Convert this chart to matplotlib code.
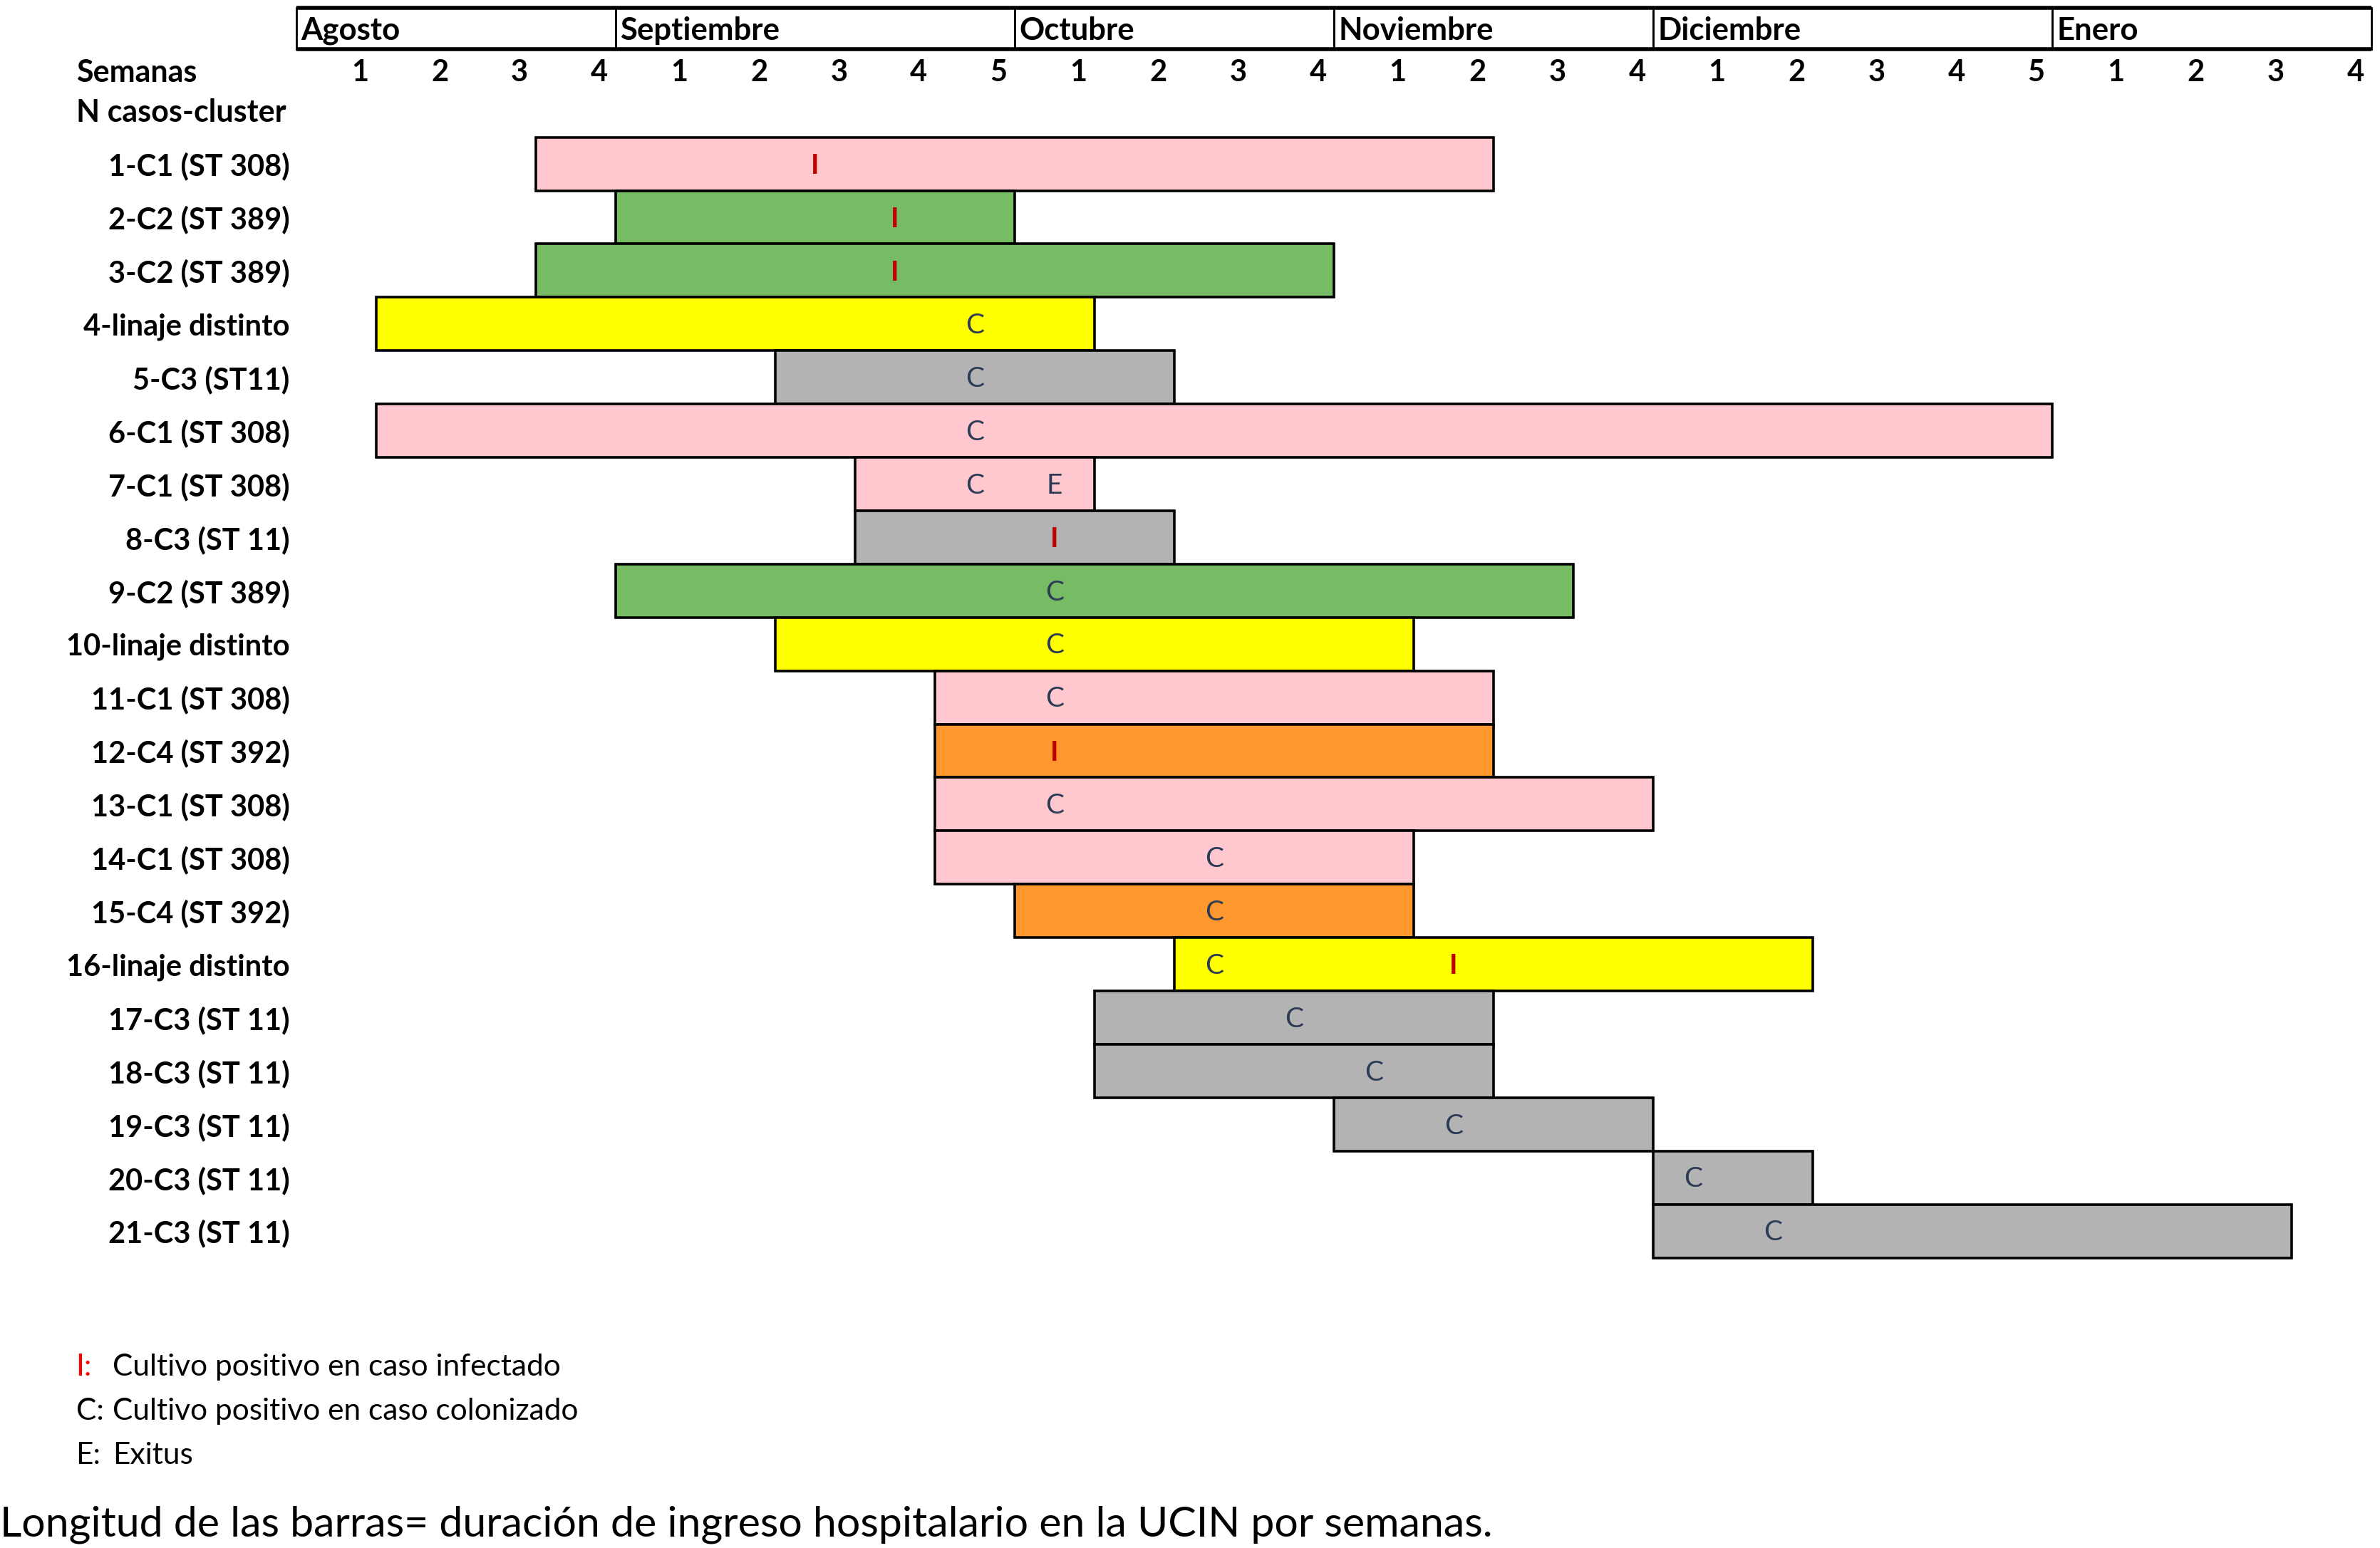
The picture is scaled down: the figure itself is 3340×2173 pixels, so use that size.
import numpy as np
import matplotlib
matplotlib.use("Agg")
import matplotlib.pyplot as plt

plt.rcParams['font.family'] = ['Lato', 'DejaVu Sans']

# ---------------- data ----------------
months = ["Agosto", "Septiembre", "Octubre", "Noviembre", "Diciembre", "Enero"]
weeks_per_month = [4, 5, 4, 4, 5, 4]
week_labels = ["1", "2", "3", "4",
               "1", "2", "3", "4", "5",
               "1", "2", "3", "4",
               "1", "2", "3", "4",
               "1", "2", "3", "4", "5",
               "1", "2", "3", "4"]

cases = ["1-C1 (ST 308)", "2-C2 (ST 389)", "3-C2 (ST 389)", "4-linaje distinto",
         "5-C3 (ST11)", "6-C1 (ST 308)", "7-C1 (ST 308)", "8-C3 (ST 11)",
         "9-C2 (ST 389)", "10-linaje distinto", "11-C1 (ST 308)", "12-C4 (ST 392)",
         "13-C1 (ST 308)", "14-C1 (ST 308)", "15-C4 (ST 392)", "16-linaje distinto",
         "17-C3 (ST 11)", "18-C3 (ST 11)", "19-C3 (ST 11)", "20-C3 (ST 11)",
         "21-C3 (ST 11)"]
clusters = ["C1", "C2", "C2", "L", "C3", "C1", "C1", "C3", "C2", "L", "C1", "C4",
            "C1", "C1", "C4", "L", "C3", "C3", "C3", "C3", "C3"]
# admission start / end (in weeks counted from 1st week of August)
start_week = [3, 4, 3, 1, 6, 1, 7, 7, 4, 6, 8, 8, 8, 8, 9, 11, 10, 10, 13, 17, 17]
end_week = [15, 9, 13, 10, 11, 22, 10, 11, 16, 14, 15, 15, 17, 14, 14, 19, 15, 15, 17, 19, 25]

# events: case number, week index, letter
event_case = [1, 2, 3, 4, 5, 6, 7, 7, 8, 9, 10, 11, 12, 13, 14, 15, 16, 16, 17, 18, 19, 20, 21]
event_week = [6, 7, 7, 8, 8, 8, 8, 9, 9, 9, 9, 9, 9, 9, 11, 11, 11, 14, 12, 13, 14, 17, 18]
event_type = ["I", "I", "I", "C", "C", "C", "C", "E", "I", "C", "C", "C", "I", "C",
              "C", "C", "C", "I", "C", "C", "C", "C", "C"]

legend_items = [("I:", "Cultivo positivo en caso infectado"),
                ("C:", "Cultivo positivo en caso colonizado"),
                ("E:", "Exitus")]
footer = "Longitud de las barras= duración de ingreso hospitalario en la UCIN por semanas."

# ---------------- styles ----------------
cluster_colors = {"C1": "#FFC7CE", "C2": "#77BC65", "C3": "#B3B3B3",
                  "C4": "#FF972F", "L": "#FFFF00"}
event_colors = {"I": "#C00000", "C": "#2B3A55", "E": "#2B3A55"}

fig = plt.figure(figsize=(33.41, 21.73), dpi=100)
ax = fig.add_axes([0, 0, 1, 1])
ax.set_xlim(-3.709, 26.114)
ax.set_ylim(26.94, -2.072)
ax.axis('off')

# month header
month_starts = np.concatenate([[0], np.cumsum(weeks_per_month)[:-1]])
hdr_top, hdr_bot = -1.925, -1.146
ax.barh([(hdr_top + hdr_bot) / 2] * len(months), weeks_per_month, left=month_starts,
        height=hdr_bot - hdr_top, color="white", edgecolor="black", linewidth=2.0)
total_weeks = sum(weeks_per_month)
ax.hlines([hdr_top, hdr_bot], 0, total_weeks, colors="black", linewidth=4.0)
for m, s in zip(months, month_starts):
    ax.text(s + 0.06, (hdr_top + hdr_bot) / 2 + 0.04, m, ha="left", va="center",
            fontsize=31.5, fontweight="bold")

# week numbers
ax.text(-2.758, -0.71, "Semanas", ha="left", va="center", fontsize=31, fontweight="bold")
for i, w in enumerate(week_labels):
    ax.text(i + 0.80, -0.71, w, ha="center", va="center", fontsize=30, fontweight="bold")
ax.text(-2.758, 0.04, "N casos-cluster", ha="left", va="center", fontsize=31, fontweight="bold")

# bars
rows = np.arange(1, len(cases) + 1)
widths = np.array(end_week) - np.array(start_week)
ax.barh(rows, widths, left=start_week, height=1.0,
        color=[cluster_colors[c] for c in clusters], edgecolor="black", linewidth=2.6)

for r, lab in zip(rows, cases):
    ax.text(-0.08, r + 0.05, lab, ha="right", va="center", fontsize=30, fontweight="bold")

for c, w, t in zip(event_case, event_week, event_type):
    ax.text(w + 0.5, c + 0.03, t, ha="center", va="center", fontsize=28,
            fontweight="bold" if t == "I" else "normal", color=event_colors[t])

# legend
for k, (key, desc) in enumerate(legend_items):
    y = 23.55 + k * 0.825
    ax.text(-2.758, y, key, ha="left", va="center", fontsize=30.5,
            color="#FF0000" if key == "I:" else "black")
    ax.text(-2.30, y, desc, ha="left", va="center", fontsize=30.5, color="black")

ax.text(-3.709, 26.5, footer, ha="left", va="center", fontsize=42.5, color="black")

fig.savefig("out.png", dpi=100)
